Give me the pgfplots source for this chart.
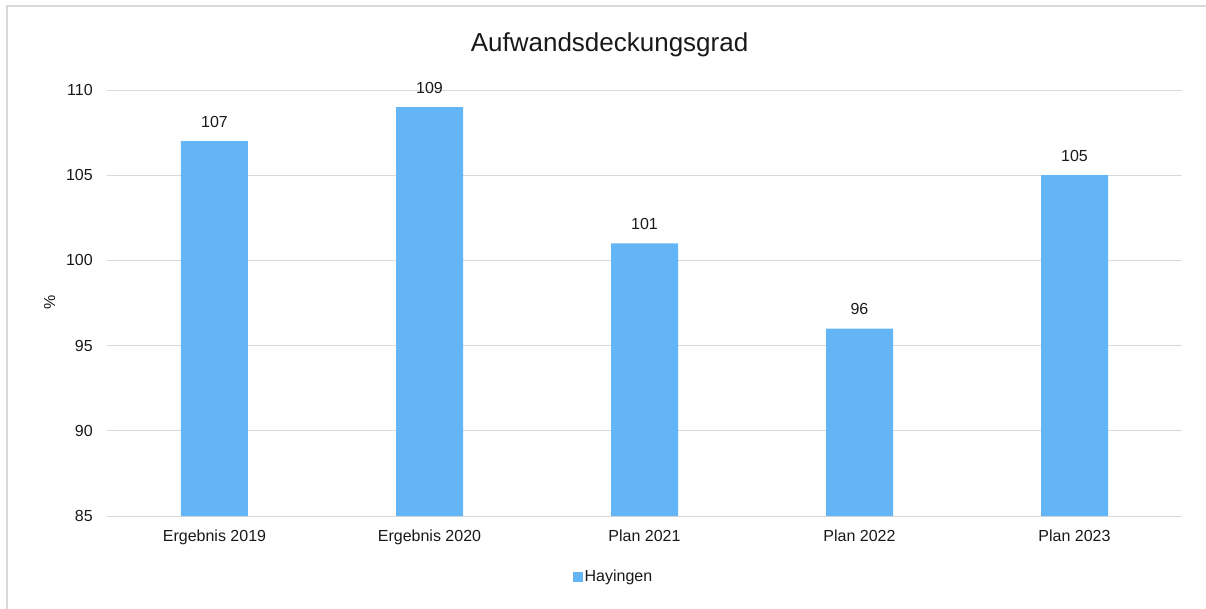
\documentclass[border=0pt]{standalone}
\usepackage{fontspec}
\setmainfont{Liberation Sans}
\usepackage{pgfplots}
\pgfplotsset{compat=1.18}
\definecolor{barblue}{RGB}{100,181,246}
\definecolor{gridgray}{RGB}{217,217,217}
\definecolor{txt}{RGB}{25,25,25}
\begin{document}
\begin{tikzpicture}
\begin{axis}[
  scale only axis,
  width=806.25pt, height=319.5pt,
  xmin=-0.5, xmax=4.5, ymin=85, ymax=110,
  ytick={85,90,95,100,105,110},
  xtick={0,1,2,3,4},
  xticklabels={Ergebnis 2019, Ergebnis 2020, Plan 2021, Plan 2022, Plan 2023},
  axis line style={draw=none},
  major tick length=0pt,
  tick style={draw=none},
  ymajorgrids,
  grid style={gridgray, line width=0.75pt},
  /pgf/number format/assume math mode=true,
  ticklabel style={font=\fontsize{12}{14}\selectfont, text=txt},
  xticklabel style={anchor=base, inner sep=0pt, yshift=-18.75pt},
  yticklabel style={anchor=east, inner sep=0pt, xshift=-10.5pt},
  title={Aufwandsdeckungsgrad},
  every axis title/.style={at={(axis description cs:0.4675,1.0915)}, anchor=base, inner sep=0pt, font=\fontsize{19.5}{23}\selectfont, text=txt},
  ylabel={\%},
  every axis y label/.style={at={(axis description cs:-0.0533,0.501)}, rotate=90, anchor=center, inner sep=0pt, font=\fontsize{12}{14}\selectfont, text=txt},
  ybar, bar width=50.25pt, bar shift=0pt,
  nodes near coords,
  nodes near coords style={font=\fontsize{12}{14}\selectfont, text=txt, inner sep=0pt, yshift=10.2pt},
  legend style={at={(axis description cs:0.4335,-0.1432)}, anchor=west, draw=none, fill=none, inner sep=0pt, column sep=0pt, font=\fontsize{12}{14}\selectfont, text=txt, nodes={inner sep=1.5pt}},
  legend image code/.code={\fill[barblue] (0pt,-3.5pt) rectangle (7pt,3.5pt);},
]
\addplot[fill=barblue, draw=none] coordinates {(0,107) (1,109) (2,101) (3,96) (4,105)};
\legend{Hayingen}
\end{axis}
\draw[gridgray, line width=1.5pt] (-75pt,-80pt) -- (-75pt,382.5pt) -- (830pt,382.5pt);
\pgfresetboundingbox
\path[use as bounding box] (-80.25pt,-69pt) rectangle (824.25pt,387pt);
\end{tikzpicture}
\end{document}
